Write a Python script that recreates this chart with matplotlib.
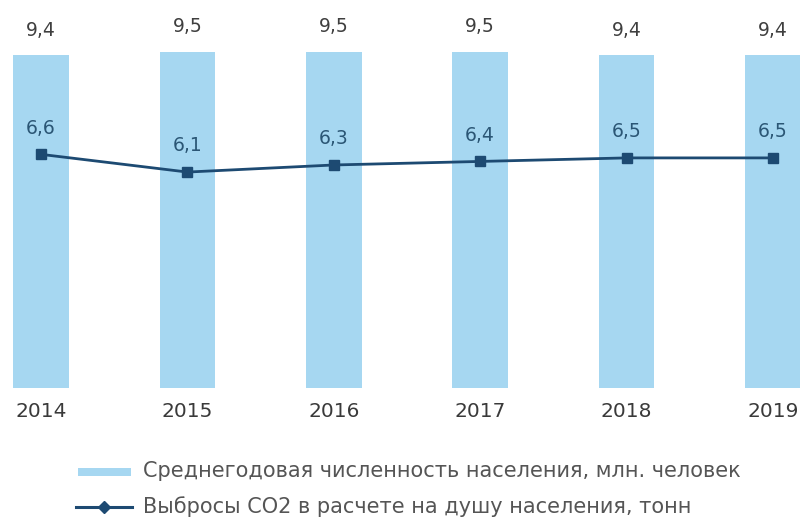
import matplotlib
matplotlib.use("Agg")
import matplotlib.pyplot as plt
from matplotlib.patches import Rectangle
from matplotlib.lines import Line2D

plt.rcParams['font.family'] = ['DejaVu Sans']

years = ["2014", "2015", "2016", "2017", "2018", "2019"]
population = [9.4, 9.5, 9.5, 9.5, 9.4, 9.4]
co2_per_capita = [6.6, 6.1, 6.3, 6.4, 6.5, 6.5]
legend_labels = ["Среднегодовая численность населения, млн. человек",
                 "Выбросы CO2 в расчете на душу населения, тонн"]

bar_color = "#a6d7f1"
line_color = "#1d4a72"

W, H = 800, 517


def fmt(v):
    return f"{v:.1f}".replace(".", ",")


def fx(px):
    return px / W


def fy(py):
    return 1 - py / H


fig = plt.figure(figsize=(W / 100, H / 100), dpi=100)
ax = fig.add_axes([0.0, fy(388), 1.0, 388 / H])

x = list(range(len(years)))
ax.bar(x, population, width=0.38, color=bar_color, zorder=1)
ax.plot(x, co2_per_capita, color=line_color, lw=2.0, marker="s", ms=7,
        zorder=3)

for xi, v in zip(x, population):
    ax.annotate(fmt(v), (xi, v), xytext=(0, 11), textcoords="offset points",
                ha="center", va="bottom", fontsize=13.5, color="#3f3f3f")
for xi, v in zip(x, co2_per_capita):
    ax.annotate(fmt(v), (xi, v), xytext=(0, 12), textcoords="offset points",
                ha="center", va="bottom", fontsize=13.5, color="#2b5675")

ax.set_xlim(-0.28, 5.185)
ax.set_ylim(0, 388 / 35.4)
ax.set_xticks(x)
ax.set_xticklabels(years, fontsize=14.5, color="#3a3a3a")
ax.tick_params(axis="x", length=0, pad=10)
ax.set_yticks([])
for s in ax.spines.values():
    s.set_visible(False)

# legend, drawn in figure coordinates
fig.patches.append(Rectangle((fx(78), fy(476)), fx(131) - fx(78), 8 / H,
                             transform=fig.transFigure, facecolor=bar_color,
                             edgecolor="none"))
fig.lines.append(Line2D([fx(76), fx(132)], [fy(507), fy(507)],
                        transform=fig.transFigure, color=line_color, lw=2.2))
fig.lines.append(Line2D([fx(104)], [fy(507)], transform=fig.transFigure,
                        color=line_color, marker="D", ms=6, lw=0))
for label, py in zip(legend_labels, [471, 507]):
    fig.text(fx(143), fy(py), label, ha="left", va="center", fontsize=15,
             color="#555555")

fig.savefig("out.png", dpi=100)
